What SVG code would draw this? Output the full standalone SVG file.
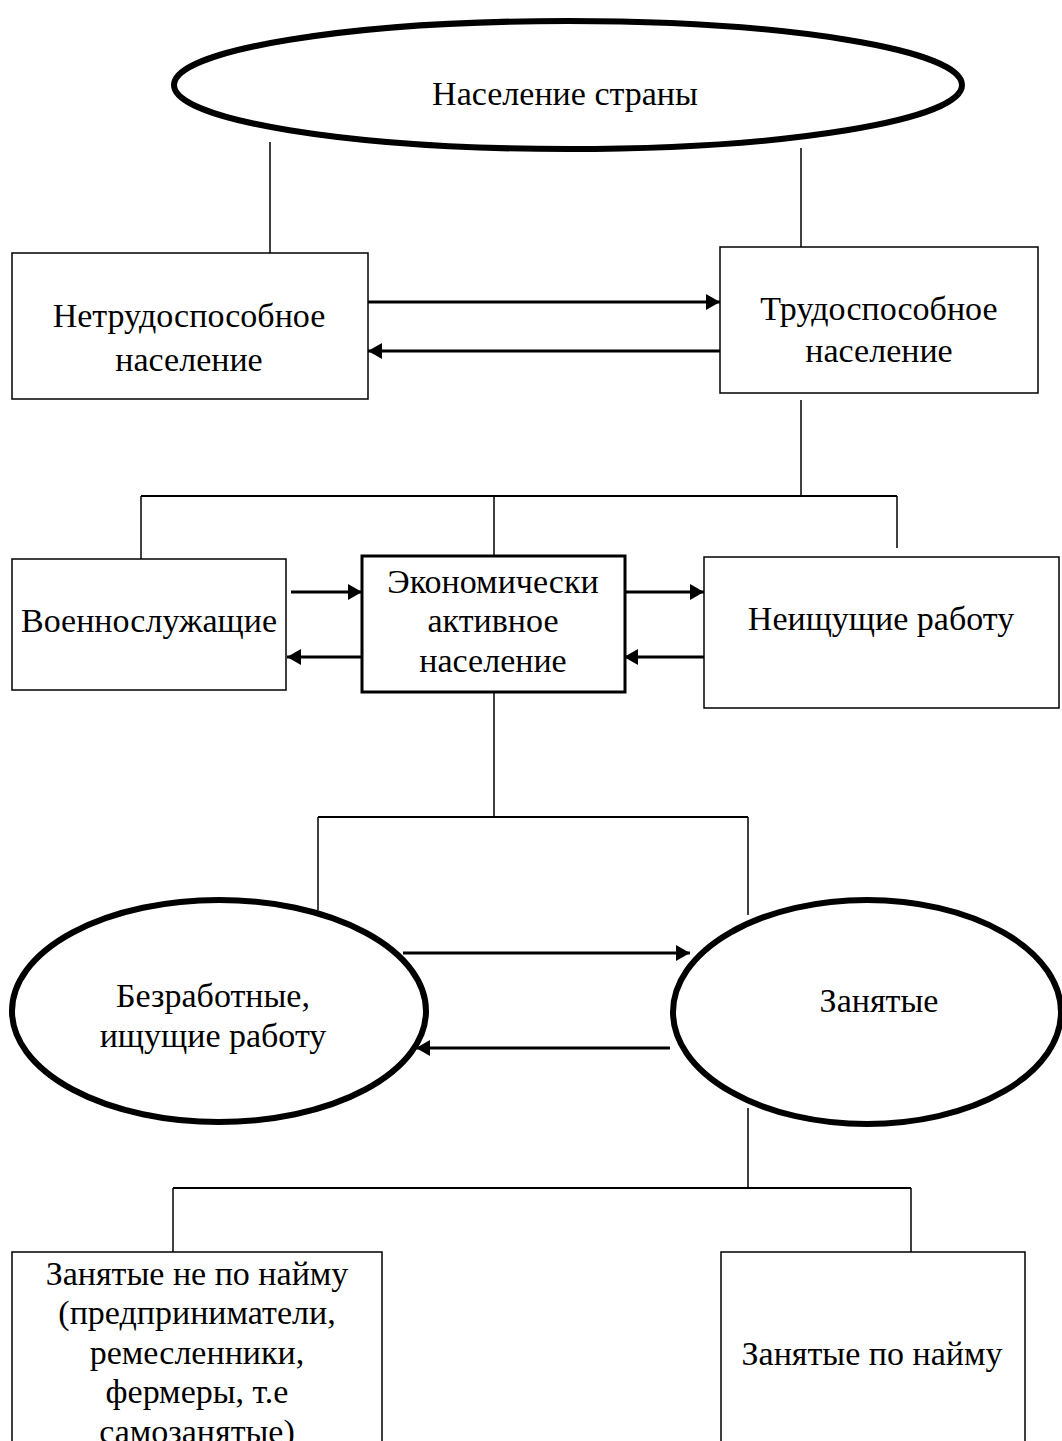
<svg xmlns="http://www.w3.org/2000/svg" width="1062" height="1441" viewBox="0 0 1062 1441">
<style>
text{font-family:"Liberation Serif","Times New Roman",serif;font-size:34px;fill:#000;text-anchor:middle}
.box{fill:#fff;stroke:#000;stroke-width:1.5}
.bold{fill:#fff;stroke:#000;stroke-width:3}
.ell{fill:#fff;stroke:#000;stroke-width:6}
.ln{fill:none;stroke:#000;stroke-width:1.5}
.bus{fill:none;stroke:#000;stroke-width:2}
.arr{fill:none;stroke:#000;stroke-width:3;marker-end:url(#ah)}
</style>
<defs>
<marker id="ah" markerUnits="userSpaceOnUse" markerWidth="15" markerHeight="16" refX="14" refY="8" orient="auto">
<path d="M0,0 L14,8 L0,16 z" fill="#000"/>
</marker>
</defs>
<rect width="1062" height="1441" fill="#fff"/>
<g id="connectors">
<line class="ln" x1="270" y1="142" x2="270" y2="253"/>
<line class="ln" x1="801" y1="148" x2="801" y2="253"/>
<line class="arr" x1="368" y1="302" x2="720" y2="302"/>
<line class="arr" x1="720" y1="351" x2="368" y2="351"/>
<line class="ln" x1="801" y1="400" x2="801" y2="496"/>
<line class="bus" x1="141" y1="496" x2="897" y2="496"/>
<line class="ln" x1="141" y1="496" x2="141" y2="560"/>
<line class="ln" x1="494" y1="496" x2="494" y2="556"/>
<line class="ln" x1="897" y1="496" x2="897" y2="548"/>
<line class="arr" x1="291" y1="592" x2="362" y2="592"/>
<line class="arr" x1="367" y1="657" x2="287" y2="657"/>
<line class="arr" x1="626" y1="592" x2="704" y2="592"/>
<line class="arr" x1="704" y1="657" x2="624" y2="657"/>
<line class="ln" x1="494" y1="692" x2="494" y2="817"/>
<line class="bus" x1="318" y1="817" x2="748" y2="817"/>
<line class="ln" x1="318" y1="817" x2="318" y2="910"/>
<line class="ln" x1="748" y1="817" x2="748" y2="915"/>
<line class="arr" x1="403" y1="953" x2="690" y2="953"/>
<line class="arr" x1="670" y1="1048" x2="416" y2="1048"/>
<line class="ln" x1="748" y1="1108" x2="748" y2="1188"/>
<line class="bus" x1="173" y1="1188" x2="911" y2="1188"/>
<line class="ln" x1="173" y1="1188" x2="173" y2="1252"/>
<line class="ln" x1="911" y1="1188" x2="911" y2="1252"/>
</g>
<g id="n-population">
<ellipse class="ell" cx="568" cy="85" rx="394" ry="64"/>
<text x="565" y="105">Население страны</text>
</g>
<g id="n-disabled">
<rect class="box" x="12" y="253" width="356" height="146"/>
<text x="189" y="327">Нетрудоспособное</text>
<text x="189" y="371">население</text>
</g>
<g id="n-able">
<rect class="box" x="720" y="247" width="318" height="146"/>
<text x="879" y="320">Трудоспособное</text>
<text x="879" y="362">население</text>
</g>
<g id="n-military">
<rect class="box" x="12" y="559" width="274" height="131"/>
<text x="149" y="632">Военнослужащие</text>
</g>
<g id="n-active">
<rect class="bold" x="362" y="556" width="263" height="136"/>
<text x="493" y="593">Экономически</text>
<text x="493" y="632">активное</text>
<text x="493" y="672">население</text>
</g>
<g id="n-notseeking">
<rect class="box" x="704" y="557" width="355" height="151"/>
<text x="881" y="630">Неищущие работу</text>
</g>
<g id="n-unemployed">
<ellipse class="ell" cx="219" cy="1011" rx="207" ry="111"/>
<text x="213" y="1007">Безработные,</text>
<text x="213" y="1047">ищущие работу</text>
</g>
<g id="n-employed">
<ellipse class="ell" cx="867" cy="1012" rx="194" ry="112"/>
<text x="879" y="1012">Занятые</text>
</g>
<g id="n-selfemployed">
<rect class="box" x="12" y="1252" width="370" height="230"/>
<text x="197" y="1285">Занятые не по найму</text>
<text x="197" y="1324">(предприниматели,</text>
<text x="197" y="1364">ремесленники,</text>
<text x="197" y="1403">фермеры, т.е</text>
<text x="197" y="1443">самозанятые)</text>
</g>
<g id="n-hired">
<rect class="box" x="721" y="1252" width="304" height="230"/>
<text x="872" y="1365">Занятые по найму</text>
</g>
</svg>
